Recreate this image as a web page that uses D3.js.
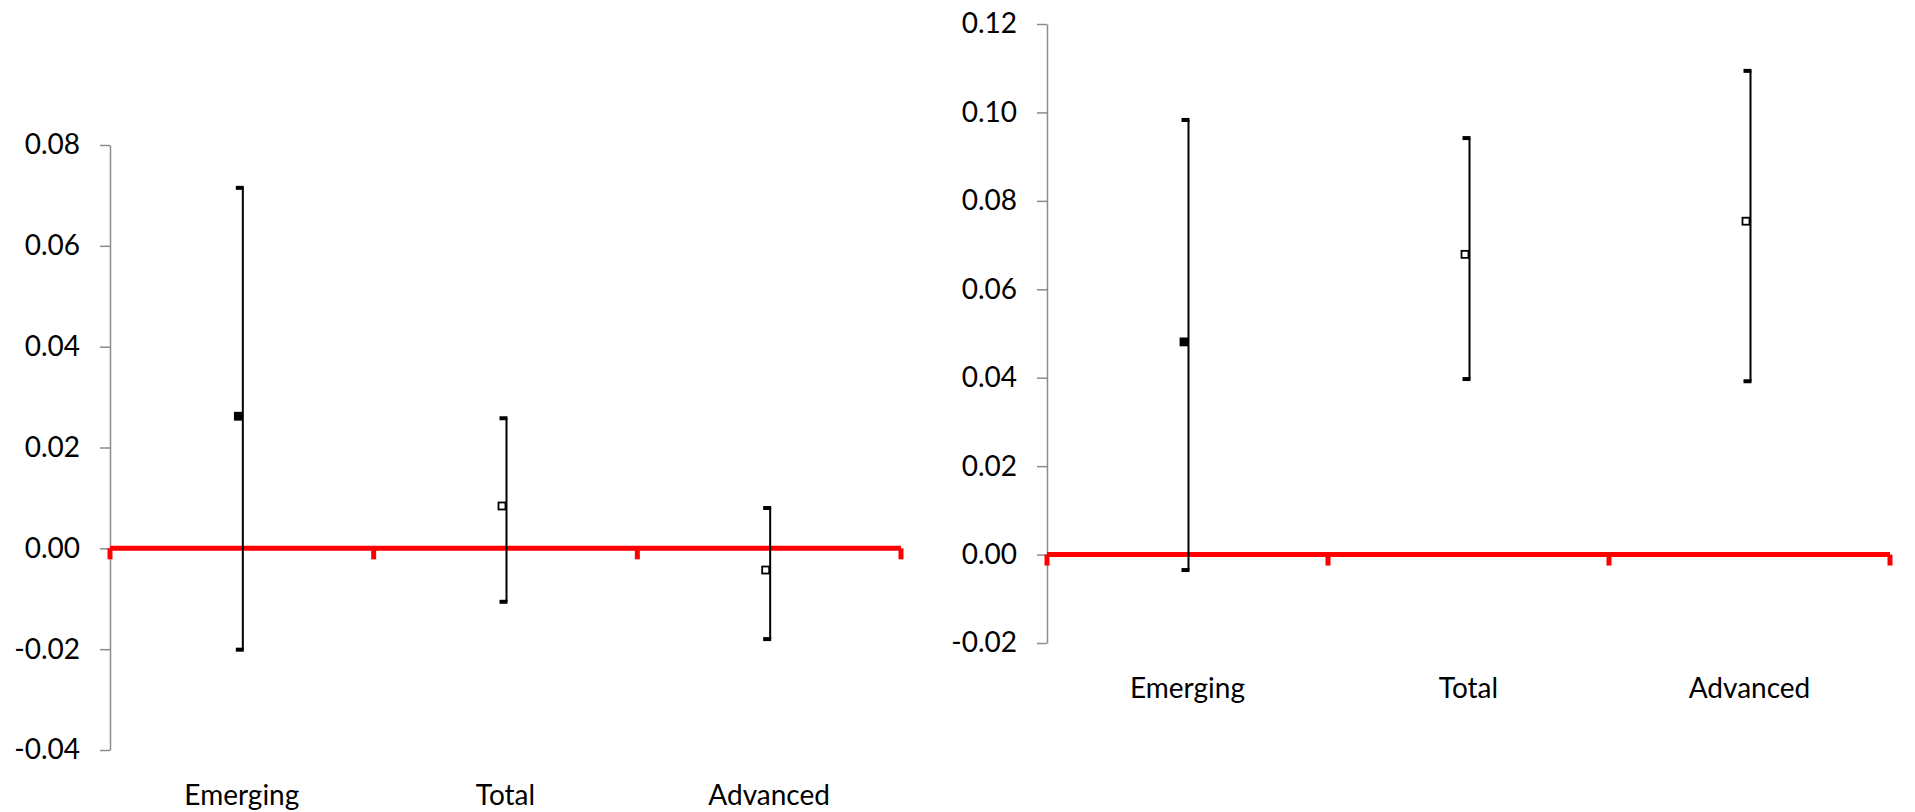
<!DOCTYPE html>
<html>
<head>
<meta charset="utf-8">
<script src="https://cdn.jsdelivr.net/npm/d3@7"></script>
<style>
  body { margin: 0; background: #fff; }
  svg text { font-family: Lato, "Open Sans", sans-serif; fill: #000; }
</style>
</head>
<body>
<svg id="chart"></svg>
<script>
// values
const categories = ["Emerging", "Total", "Advanced"];
const markerFilled = [true, false, false];

const leftEstimate = [0.0262, 0.0084, -0.0043];
const leftLower    = [-0.0201, -0.0106, -0.0180];
const leftUpper    = [0.0715, 0.0258, 0.0080];
const leftTicks    = [-0.04, -0.02, 0.00, 0.02, 0.04, 0.06, 0.08];

const rightEstimate = [0.0481, 0.0679, 0.0754];
const rightLower    = [-0.0035, 0.0397, 0.0392];
const rightUpper    = [0.0983, 0.0942, 0.1094];
const rightTicks    = [-0.02, 0.00, 0.02, 0.04, 0.06, 0.08, 0.10, 0.12];

const width = 1915;
const height = 812;

const svg = d3.select('svg#chart')
  .attr('width', width)
  .attr('height', height);

////////////////////////////////////////////////
// one panel: grey y axis, red zero line with category ticks, error bars
function drawPanel(box, est, lo, hi, ticks)
{
  const y = d3.scaleLinear()
    .domain([ticks[0], ticks[ticks.length - 1]])
    .range([box.bottom, box.top]);

  const x = d3.scaleBand()
    .domain(categories)
    .range([box.left, box.right])
    .padding(0);

  const g = svg.append('g');

  // y axis (plain hyphen for negatives, like the original)
  const yAxis = d3.axisLeft(y)
    .tickValues(ticks)
    .tickSize(10)
    .tickSizeOuter(0)
    .tickPadding(20)
    .tickFormat(d => d.toFixed(2));

  const gY = g.append('g')
    .attr('transform', `translate(${box.left}, 0)`)
    .call(yAxis);
  gY.select('.domain').attr('stroke', '#8c8c8c').attr('stroke-width', 1.5);
  gY.selectAll('.tick line').attr('stroke', '#8c8c8c').attr('stroke-width', 1.5);
  gY.selectAll('.tick text')
    .style('font-size', '28px')
    .attr('fill', '#000');

  // red horizontal axis at zero
  const y0 = y(0);
  g.append('line')
    .attr('x1', box.left).attr('x2', box.right)
    .attr('y1', y0).attr('y2', y0)
    .attr('stroke', '#ff0000')
    .attr('stroke-width', 5);

  const bounds = categories.map(c => x(c)).concat([x(categories[categories.length - 1]) + x.bandwidth()]);
  g.selectAll('line.redtick')
    .data(bounds)
    .enter()
    .append('line')
      .attr('class', 'redtick')
      .attr('x1', d => d).attr('x2', d => d)
      .attr('y1', y0).attr('y2', y0 + 11)
      .attr('stroke', '#ff0000')
      .attr('stroke-width', 5);

  // category labels
  g.selectAll('text.cat')
    .data(categories)
    .enter()
    .append('text')
      .attr('class', 'cat')
      .attr('x', d => x(d) + x.bandwidth() / 2)
      .attr('y', box.bottom + 55)
      .attr('text-anchor', 'middle')
      .style('font-size', '28px')
      .text(d => d);

  const rows = categories.map((c, i) => ({c: c, est: est[i], lo: lo[i], hi: hi[i], filled: markerFilled[i]}));
  const cx = d => x(d.c) + x.bandwidth() / 2 + 1;

  // whiskers
  g.selectAll('line.whisker')
    .data(rows)
    .enter()
    .append('line')
      .attr('class', 'whisker')
      .attr('x1', cx).attr('x2', cx)
      .attr('y1', d => y(d.hi)).attr('y2', d => y(d.lo))
      .attr('stroke', '#000')
      .attr('stroke-width', 2);

  // caps (drawn mostly to the left, like the original)
  ['hi', 'lo'].forEach(k => {
    g.selectAll('line.cap-' + k)
      .data(rows)
      .enter()
      .append('line')
        .attr('class', 'cap-' + k)
        .attr('x1', d => cx(d) - 7).attr('x2', d => cx(d) + 1)
        .attr('y1', d => y(d[k])).attr('y2', d => y(d[k]))
        .attr('stroke', '#000')
        .attr('stroke-width', 4);
  });

  // markers
  g.selectAll('rect.marker')
    .data(rows)
    .enter()
    .append('rect')
      .attr('class', 'marker')
      .attr('x', d => cx(d) - 8)
      .attr('y', d => y(d.est) - 3.5)
      .attr('width', 7)
      .attr('height', 7)
      .attr('fill', d => d.filled ? '#000' : '#fff')
      .attr('stroke', '#000')
      .attr('stroke-width', 1.8);
}

drawPanel({left: 110, right: 901, top: 145, bottom: 750}, leftEstimate, leftLower, leftUpper, leftTicks);
drawPanel({left: 1047, right: 1890, top: 24, bottom: 643}, rightEstimate, rightLower, rightUpper, rightTicks);
</script>
</body>
</html>
